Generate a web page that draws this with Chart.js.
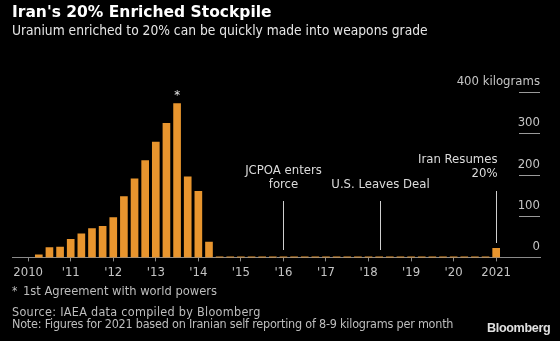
<!DOCTYPE html>
<html>
<head>
<meta charset="utf-8">
<script src="https://cdn.jsdelivr.net/npm/chart.js@4/dist/chart.umd.min.js"></script>
<style>
  html, body { margin:0; padding:0; background:#000; }
  #wrap { position:relative; width:560px; height:341px; overflow:hidden; background:#000; font-family:"DejaVu Sans Condensed","DejaVu Sans",sans-serif; }
  canvas { position:absolute; left:0; top:0; }
  .t { position:absolute; white-space:nowrap; line-height:1; }
  #title { left:12px; top:5px; font-family:"DejaVu Sans",sans-serif; font-size:15.5px; font-weight:bold; color:#fff; }
  #sub { left:12px; top:24px; font-size:13.7px; color:#e6e6e6; }
  #starmark { left:12px; top:285px; font-size:12px; color:#bdbdbd; }
  #star { left:23px; top:285px; font-size:12.8px; color:#bdbdbd; }
  #src { left:12px; top:306px; font-size:12.5px; letter-spacing:0.28px; color:#bdbdbd; }
  #note { left:12px; top:318px; font-size:12.5px; letter-spacing:-0.22px; color:#bdbdbd; }
  #logo { left:487px; top:322px; font-family:"Liberation Sans",Arial,sans-serif; font-weight:bold; font-size:12.6px; color:#e0e0e0; letter-spacing:-0.35px; }
</style>
</head>
<body>
<div id="wrap">
  <canvas id="c" width="560" height="341"></canvas>
  <div class="t" id="title">Iran's 20% Enriched Stockpile</div>
  <div class="t" id="sub">Uranium enriched to 20% can be quickly made into weapons grade</div>
  <div class="t" id="starmark">*</div>
  <div class="t" id="star">1st Agreement with world powers</div>
  <div class="t" id="src">Source: IAEA data compiled by Bloomberg</div>
  <div class="t" id="note">Note: Figures for 2021 based on Iranian self reporting of 8-9 kilograms per month</div>
  <div class="t" id="logo">Bloomberg</div>
</div>
<script>
// Reporting periods (decimal years, quarterly)
const periods = [
  2010.25, 2010.5, 2010.75,
  2011.0, 2011.25, 2011.5, 2011.75,
  2012.0, 2012.25, 2012.5, 2012.75,
  2013.0, 2013.25, 2013.5, 2013.75,
  2014.0, 2014.25, 2014.5, 2014.75,
  2015.0, 2015.25, 2015.5, 2015.75,
  2016.0, 2016.25, 2016.5, 2016.75,
  2017.0, 2017.25, 2017.5, 2017.75,
  2018.0, 2018.25, 2018.5, 2018.75,
  2019.0, 2019.25, 2019.5, 2019.75,
  2020.0, 2020.25, 2020.5, 2020.75,
  2021.0
];
// Stockpile of 20% enriched uranium, kilograms
const stockpileKg = [
  6, 24, 25,
  44, 57, 70, 75,
  96, 147, 190, 234,
  279, 324, 372, 195,
  160, 37, 1.5, 1.5,
  1.5, 1.5, 1.5, 1.5,
  1.5, 1.5, 1.5, 1.5,
  1.5, 1.5, 1.5, 1.5,
  1.5, 1.5, 1.5, 1.5,
  1.5, 1.5, 1.5, 1.5,
  1.5, 1.5, 1.5, 1.5,
  22
];
const tickYears = [2010, 2011, 2012, 2013, 2014, 2015, 2016, 2017, 2018, 2019, 2020, 2021];
const tickLabels = ["2010", "'11", "'12", "'13", "'14", "'15", "'16", "'17", "'18", "'19", "'20", "2021"];
const yTicks = [0, 100, 200, 300, 400];
const yTickLabels = ["0", "100", "200", "300", "400 kilograms"];
// Annotated events
const eventYears = [2016.0, 2018.27, 2021.0];
const eventLabels = [["JCPOA enters", "force"], ["U.S. Leaves Deal"], ["Iran Resumes", "20%"]];
const starPeriod = 2013.5;

const FONT = '"DejaVu Sans Condensed","DejaVu Sans",sans-serif';

const overlay = {
  id: 'overlay',
  afterDraw(chart) {
    const ctx = chart.ctx;
    const xs = chart.scales.x, ys = chart.scales.y;
    const area = chart.chartArea;
    ctx.save();
    // y labels and short grid segments on the right
    ctx.font = '13px ' + FONT;
    ctx.fillStyle = '#c4c4c4';
    ctx.textAlign = 'right';
    ctx.textBaseline = 'middle';
    yTicks.forEach((v, i) => {
      const y = Math.round(ys.getPixelForValue(v)) + 0.5;
      ctx.fillText(yTickLabels[i], area.right, y - 11);
      if (v !== 0) {
        ctx.strokeStyle = '#9a9a9a';
        ctx.lineWidth = 1;
        ctx.beginPath();
        ctx.moveTo(area.right - 21, y);
        ctx.lineTo(area.right, y);
        ctx.stroke();
      }
    });
    // event annotations
    ctx.fillStyle = '#dcdcdc';
    ctx.strokeStyle = '#cfcfcf';
    eventYears.forEach((yr, i) => {
      const x = Math.round(xs.getPixelForValue(yr)) + 0.5;
      const last = i === eventYears.length - 1;
      const lines = eventLabels[i];
      const top = last ? 191 : 201;
      const bottom = last ? 243 : 250;
      ctx.beginPath();
      ctx.moveTo(x, top);
      ctx.lineTo(x, bottom);
      ctx.stroke();
      ctx.font = '13px ' + FONT;
      ctx.textBaseline = 'middle';
      if (last) {
        ctx.textAlign = 'right';
        ctx.fillText(lines[0], x + 1, 160);
        ctx.fillText(lines[1], x + 1, 174);
      } else {
        ctx.textAlign = 'center';
        if (lines.length === 2) {
          ctx.fillText(lines[0], x, 171);
          ctx.fillText(lines[1], x, 185);
        } else {
          ctx.fillText(lines[0], x, 185);
        }
      }
    });
    // asterisk above the peak bar
    const sx = xs.getPixelForValue(starPeriod);
    const idx = periods.indexOf(starPeriod);
    const sy = ys.getPixelForValue(stockpileKg[idx]);
    ctx.fillStyle = '#e8e8e8';
    ctx.textAlign = 'center';
    ctx.textBaseline = 'middle';
    ctx.font = '13px ' + FONT;
    ctx.fillText('*', sx, sy - 8);
    ctx.restore();
  }
};

new Chart(document.getElementById('c'), {
  type: 'bar',
  data: {
    datasets: [{
      data: periods.map((p, i) => ({ x: p, y: stockpileKg[i] })),
      backgroundColor: '#e8952e',
      borderWidth: 0,
      barThickness: 7
    }]
  },
  options: {
    responsive: false,
    animation: false,
    devicePixelRatio: 1,
    layout: { padding: { left: 12, right: 20, top: 92, bottom: 58 } },
    plugins: { legend: { display: false }, tooltip: { enabled: false } },
    scales: {
      x: {
        type: 'linear',
        offset: false,
        min: 2009.62,
        max: 2022.03,
        afterBuildTicks(scale) { scale.ticks = tickYears.map(v => ({ value: v })); },
        ticks: {
          autoSkip: false,
          maxRotation: 0,
          padding: 3,
          color: '#c4c4c4',
          font: { size: 13, family: FONT },
          callback(v) { const i = tickYears.indexOf(v); return i >= 0 ? tickLabels[i] : ''; }
        },
        grid: { offset: false, drawOnChartArea: false, drawTicks: true, tickLength: 4, color: '#8a8a8a' },
        border: { display: true, color: '#8a8a8a', width: 1 }
      },
      y: { min: 0, max: 400, display: false }
    }
  },
  plugins: [overlay]
});
</script>
</body>
</html>
